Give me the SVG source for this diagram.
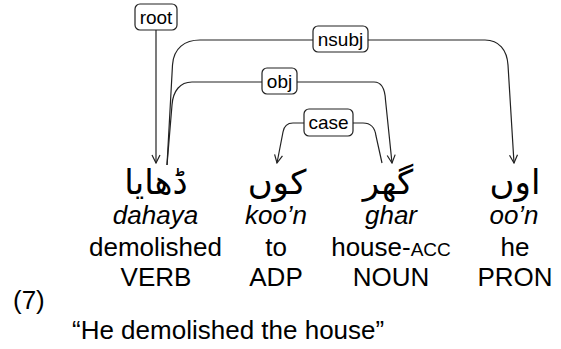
<svg xmlns="http://www.w3.org/2000/svg" width="561" height="349" viewBox="0 0 561 349">
<style>
.t{font-family:"Liberation Sans",Arial,sans-serif;font-size:26px;fill:#000;text-anchor:middle}
.i{font-style:italic}
.u{font-family:"DejaVu Sans",sans-serif;font-size:34px;fill:#000;text-anchor:middle}
.lb{fill:#fff;stroke:#222;stroke-width:1.2}
.lt{font-family:"Liberation Sans",Arial,sans-serif;font-size:19px;fill:#000;text-anchor:middle}
.e{fill:none;stroke:#222;stroke-width:1.2}
</style>
<defs>
<marker id="ah" viewBox="0 0 10 10" refX="9" refY="5" markerWidth="10" markerHeight="10" markerUnits="userSpaceOnUse" orient="auto">
<path d="M1,1 L9,5 L1,9" fill="none" stroke="#222" stroke-width="1.2"/>
</marker>
</defs>
<g id="edges">
<path class="e" d="M156,30 L156,163" marker-end="url(#ah)"/>
<path class="e" d="M167,165 L172.5,65 C173.5,48 185,40 200,40 L485,40 C499,40 507,50 508,65 L514,163" marker-end="url(#ah)"/>
<path class="e" d="M167,165 L172,105 C173,91 180,82 192,82 L374,82 C382,82 385,90 385.5,100 L392,163" marker-end="url(#ah)"/>
<path class="e" d="M382,163 L376,136 C375,128 371,123 363,123 L293,123 C287,123 284,126 283,132 L277,163" marker-end="url(#ah)"/>
</g>
<g id="label-root"><rect class="lb" x="135" y="4" width="42" height="26" rx="5"/><text class="lt" x="156" y="23.5">root</text></g>
<g id="label-nsubj"><rect class="lb" x="313" y="26" width="55" height="26" rx="5"/><text class="lt" x="340.5" y="45.5">nsubj</text></g>
<g id="label-obj"><rect class="lb" x="262" y="68" width="35" height="26" rx="5"/><text class="lt" x="279.5" y="87.5">obj</text></g>
<g id="label-case"><rect class="lb" x="304" y="109" width="49" height="27" rx="5"/><text class="lt" x="328.5" y="129">case</text></g>
<g id="w1">
<text class="u" x="156" y="194" direction="rtl">ڈھایا</text>
<text class="t i" x="155.5" y="224">dahaya</text>
<text class="t" x="155.5" y="256">demolished</text>
<text class="t" x="156" y="286">VERB</text>
</g>
<g id="w2">
<text class="u" x="277" y="194" direction="rtl">کوں</text>
<text class="t i" x="276" y="224">koo’n</text>
<text class="t" x="276" y="256">to</text>
<text class="t" x="276" y="286">ADP</text>
</g>
<g id="w3">
<text class="u" x="388" y="194" direction="rtl">گھر</text>
<text class="t i" x="391" y="224">ghar</text>
<text class="t" x="391" y="256">house-<tspan font-size="19">ACC</tspan></text>
<text class="t" x="391" y="286">NOUN</text>
</g>
<g id="w4">
<text class="u" x="515" y="194" direction="rtl">اوں</text>
<text class="t i" x="514" y="224">oo’n</text>
<text class="t" x="515" y="256">he</text>
<text class="t" x="515" y="286">PRON</text>
</g>
<text class="t" x="13" y="309" style="text-anchor:start">(7)</text>
<text class="t" x="72" y="339" style="text-anchor:start">“He demolished the house”</text>
</svg>
